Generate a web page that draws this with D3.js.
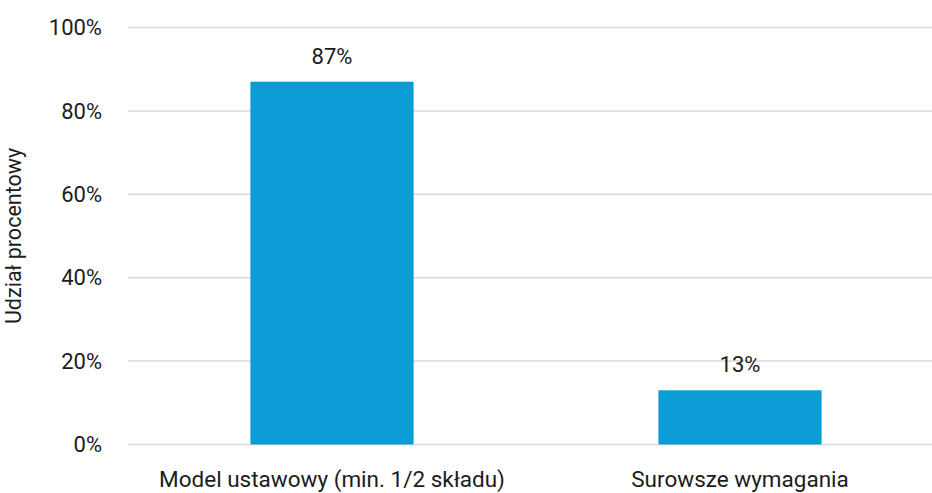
<!DOCTYPE html>
<html><head><meta charset="utf-8">
<script src="https://cdn.jsdelivr.net/npm/d3@7"></script>
<style>
body{margin:0;background:#fff;}
text{font-family:"Roboto","Noto Sans",sans-serif;font-weight:400;fill:#1c1c1c;}
</style></head>
<body><svg id="c" width="932" height="493"></svg>
<script>
const categories = ["Model ustawowy (min. 1/2 składu)", "Surowsze wymagania"];
const values = [87, 13];
const yTicks = [0, 20, 40, 60, 80, 100];
const yTitle = "Udział procentowy";

const svg = d3.select("#c");
const y = d3.scaleLinear().domain([0, 100]).range([444.5, 27.5]);
const x = d3.scaleBand().domain(categories).range([128, 944]).paddingInner(0.6).paddingOuter(0.3);

// gridlines
svg.append("g").selectAll("line").data(yTicks).join("line")
  .attr("x1", 128).attr("x2", 932)
  .attr("y1", d => y(d)).attr("y2", d => y(d))
  .attr("stroke", "#d9d9d9").attr("stroke-width", 1.5);

// y tick labels
svg.append("g").selectAll("text").data(yTicks).join("text")
  .attr("x", 102).attr("y", d => y(d)).attr("dy", "0.35em")
  .attr("text-anchor", "end").attr("font-size", 22)
  .text(d => d + "%");

// bars
svg.append("g").selectAll("rect").data(values).join("rect")
  .attr("x", (d, i) => x(categories[i])).attr("width", x.bandwidth())
  .attr("y", d => y(d)).attr("height", d => y(0) - y(d))
  .attr("fill", "#0b9cd6");

// value labels
svg.append("g").selectAll("text").data(values).join("text")
  .attr("x", (d, i) => x(categories[i]) + x.bandwidth() / 2)
  .attr("y", d => y(d) - 18)
  .attr("text-anchor", "middle").attr("font-size", 22)
  .text(d => d + "%");

// category labels
svg.append("g").selectAll("text").data(categories).join("text")
  .attr("x", d => x(d) + x.bandwidth() / 2).attr("y", 487)
  .attr("text-anchor", "middle").attr("font-size", 22.5)
  .text(d => d);

// y title
svg.append("text")
  .attr("transform", "translate(21," + y(50) + ") rotate(-90)")
  .attr("text-anchor", "middle").attr("font-size", 21.5)
  .text(yTitle);
</script></body></html>
